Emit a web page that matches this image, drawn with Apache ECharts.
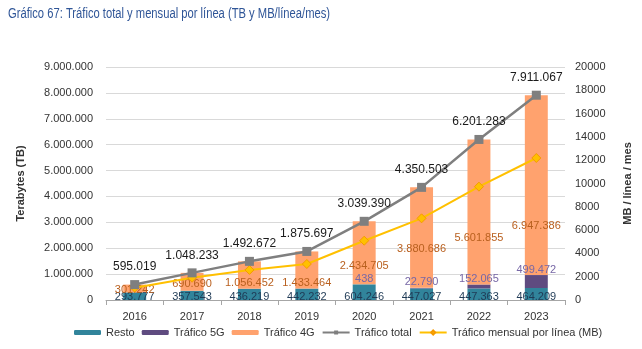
<!DOCTYPE html>
<html><head><meta charset="utf-8">
<script src="https://cdn.jsdelivr.net/npm/echarts@6/dist/echarts.min.js"></script>
<style>html,body{margin:0;padding:0;background:#fff}#c{width:642px;height:349px}</style>
</head><body><div id="c"></div>
<script>
var years = ['2016','2017','2018','2019','2020','2021','2022','2023'];
var resto = [293777, 357543, 436219, 442232, 604246, 447027, 447363, 464209];
var trafico5g = [0, 0, 0, 0, 438, 22790, 152065, 499472];
var trafico4g = [301242, 690690, 1056452, 1433464, 2434705, 3880686, 5601855, 6947386];
var traficoTotal = [595019, 1048233, 1492672, 1875697, 3039390, 4350503, 6201283, 7911067];
var mensualLinea = [1060, 1910, 2580, 3090, 5090, 7010, 9730, 12190];
var leftTicks = {min: 0, max: 9000000, interval: 1000000};
var rightTicks = {min: 0, max: 20000, interval: 2000};
// label vertical nudges for 4G labels (style only)
var label4gOffsetY = [8, 4, 5, 5, -8, -28, -36, -39];
var titleText = 'Gráfico 67: Tráfico total y mensual por línea (TB y MB/línea/mes)';

function fmt(v){ return String(v).replace(/\B(?=(\d{3})+(?!\d))/g,'.'); }
var FONT = '"Liberation Sans", Arial, sans-serif';

var chart = echarts.init(document.getElementById('c'), null, {renderer:'canvas'});
chart.setOption({
  animation: false,
  textStyle: {fontFamily: FONT},
  graphic: [{
    type: 'text', left: 8, top: 7, scaleX: 0.8, originX: 0,
    style: {text: titleText, fontFamily: FONT, fontSize: 14, fill: '#2F5597'}
  }],
  grid: {left: 106, right: 77, top: 67, bottom: 49, containLabel: false},
  legend: {
    bottom: 6, left: 69,
    itemWidth: 27, itemHeight: 5, itemGap: 7,
    textStyle: {fontFamily: FONT, fontSize: 11, color: '#333'},
    data: ['Resto','Tráfico 5G','Tráfico 4G','Tráfico total','Tráfico mensual por línea (MB)']
  },
  xAxis: {
    type: 'category', data: years,
    axisLine: {lineStyle: {color: '#A6A6A6'}},
    axisTick: {show: true, alignWithLabel: false, lineStyle: {color: '#A6A6A6'}},
    axisLabel: {fontFamily: FONT, fontSize: 11, color: '#333', margin: 11}
  },
  yAxis: [{
    type: 'value', min: leftTicks.min, max: leftTicks.max, interval: leftTicks.interval,
    name: 'Terabytes (TB)', nameLocation: 'middle', nameGap: 80, nameRotate: 90,
    nameTextStyle: {fontFamily: FONT, fontSize: 11, fontWeight: 'bold', color: '#333'},
    axisLine: {show: false}, axisTick: {show: false},
    axisLabel: {fontFamily: FONT, fontSize: 11, color: '#333', margin: 13, formatter: fmt},
    splitLine: {lineStyle: {color: '#D9D9D9'}}
  },{
    type: 'value', min: rightTicks.min, max: rightTicks.max, interval: rightTicks.interval,
    name: 'MB / línea / mes', nameLocation: 'middle', nameGap: 57, nameRotate: 90,
    nameTextStyle: {fontFamily: FONT, fontSize: 11, fontWeight: 'bold', color: '#333'},
    axisLine: {show: false}, axisTick: {show: false},
    axisLabel: {fontFamily: FONT, fontSize: 11, color: '#333', margin: 10, formatter: function(v){ return String(v); }},
    splitLine: {show: false}
  }],
  series: [{
    name: 'Resto', type: 'bar', stack: 'a', barWidth: '40%',
    itemStyle: {color: '#31849B'},
    label: {show: true, position: 'insideBottom', distance: -2, fontSize: 11, fontFamily: FONT, color: '#1F3A55',
      formatter: function(p){ return fmt(p.value); }},
    data: resto
  },{
    name: 'Tráfico 5G', type: 'bar', stack: 'a',
    itemStyle: {color: '#5F4B80'},
    label: {show: true, position: 'top', distance: 0, fontSize: 11, fontFamily: FONT, color: '#7767A6',
      formatter: function(p){ return p.value ? fmt(p.value) : ''; }},
    data: trafico5g
  },{
    name: 'Tráfico 4G', type: 'bar', stack: 'a',
    itemStyle: {color: '#FFA26E'},
    label: {show: true, position: 'insideBottom', fontSize: 11, fontFamily: FONT, color: '#B9601F',
      formatter: function(p){ return fmt(p.value); }},
    data: trafico4g.map(function(v, i){ return {value: v, label: {offset: [0, label4gOffsetY[i]]}}; })
  },{
    name: 'Tráfico total', type: 'line', yAxisIndex: 0,
    symbol: 'rect', symbolSize: 9,
    lineStyle: {color: '#7F7F7F', width: 2.5}, itemStyle: {color: '#7F7F7F'},
    label: {show: true, position: 'top', distance: 7, fontSize: 12, fontFamily: FONT, color: '#1a1a1a',
      formatter: function(p){ return fmt(p.value); }},
    data: traficoTotal, z: 5
  },{
    name: 'Tráfico mensual por línea (MB)', type: 'line', yAxisIndex: 1,
    symbol: 'diamond', symbolSize: 9,
    lineStyle: {color: '#FFC000', width: 2}, itemStyle: {color: '#FFC000', borderColor: '#F59A00', borderWidth: 1},
    data: mensualLinea, z: 4
  }]
});
</script></body></html>
